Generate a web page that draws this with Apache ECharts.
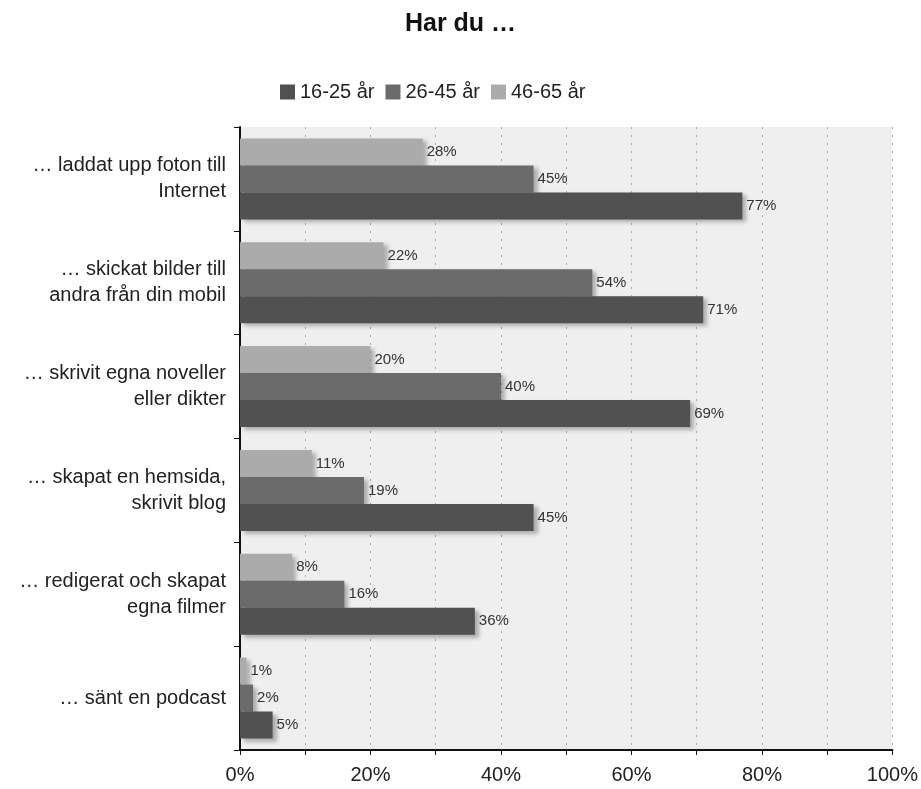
<!DOCTYPE html>
<html>
<head>
<meta charset="utf-8">
<script src="https://cdn.jsdelivr.net/npm/echarts@6/dist/echarts.min.js"></script>
<style>
  html, body { margin: 0; padding: 0; background: #fff; }
  #chart { width: 921px; height: 789px; }
</style>
</head>
<body>
<div id="chart"></div>
<script>
// kategorier uppifrån och ned
const categories = [
  '… laddat upp foton till\nInternet',
  '… skickat bilder till\nandra från din mobil',
  '… skrivit egna noveller\neller dikter',
  '… skapat en hemsida,\nskrivit blog',
  '… redigerat och skapat\negna filmer',
  '… sänt en podcast'
]
const seriesNames = ['16-25 år', '26-45 år', '46-65 år']
const age16to25 = [77, 71, 69, 45, 36, 5]
const age26to45 = [45, 54, 40, 19, 16, 2]
const age46to65 = [28, 22, 20, 11, 8, 1]
const xTicks = [0, 20, 40, 60, 80, 100]

const colors = ['#515151', '#6b6b6b', '#ababab']
const font = 'Liberation Sans, Arial, sans-serif'

const makeSeries = (name, data, color) => ({
  name: name,
  type: 'bar',
  data: data,
  barGap: '0%',
  barCategoryGap: '22%',
  itemStyle: {
    color: color,
    shadowColor: 'rgba(0,0,0,0.28)',
    shadowBlur: 4,
    shadowOffsetX: 4,
    shadowOffsetY: 3,
  },
  label: {
    show: true,
    position: 'right',
    distance: 4,
    formatter: '{c}%',
    color: '#333',
    fontSize: 15,
    fontFamily: font,
  },
})

const myChart = echarts.init(document.getElementById('chart'))
const option = {
  animation: false,
  backgroundColor: '#fff',
  title: {
    text: 'Har du …',
    left: 'center',
    top: 7,
    textStyle: { fontSize: 25, fontWeight: 'bold', color: '#111', fontFamily: font },
  },
  legend: {
    data: seriesNames,
    left: 275,
    top: 77,
    icon: 'rect',
    itemWidth: 15,
    itemHeight: 15,
    itemGap: 11,
    textStyle: { fontSize: 20, color: '#222', fontFamily: font },
  },
  grid: {
    left: 240,
    right: 28,
    top: 127,
    bottom: 39,
    show: true,
    backgroundColor: '#efefef',
    borderWidth: 0,
    containLabel: false,
  },
  xAxis: {
    type: 'value',
    min: 0,
    max: 100,
    interval: 10,
    axisLine: { show: true, lineStyle: { color: '#111', width: 2 } },
    axisTick: { show: true, length: 5, lineStyle: { color: '#111' } },
    splitLine: { show: true, lineStyle: { color: '#a8a8a8', type: [2, 6], width: 1 } },
    axisLabel: {
      fontSize: 20,
      color: '#222',
      fontFamily: font,
      margin: 15,
      formatter: (v) => (xTicks.indexOf(v) >= 0 ? v + '%' : ''),
    },
  },
  yAxis: {
    type: 'category',
    data: categories,
    inverse: true,
    axisLine: { show: true, lineStyle: { color: '#111', width: 2 } },
    axisTick: { show: true, length: 6, inside: false, lineStyle: { color: '#111' } },
    axisLabel: {
      fontSize: 20,
      color: '#222',
      fontFamily: font,
      align: 'right',
      margin: 14,
      lineHeight: 26,
    },
  },
  // med inverse ligger första serien överst, därför omvänd ordning
  series: [
    makeSeries(seriesNames[2], age46to65, colors[2]),
    makeSeries(seriesNames[1], age26to45, colors[1]),
    makeSeries(seriesNames[0], age16to25, colors[0]),
  ],
}
option && myChart.setOption(option)
</script>
</body>
</html>
